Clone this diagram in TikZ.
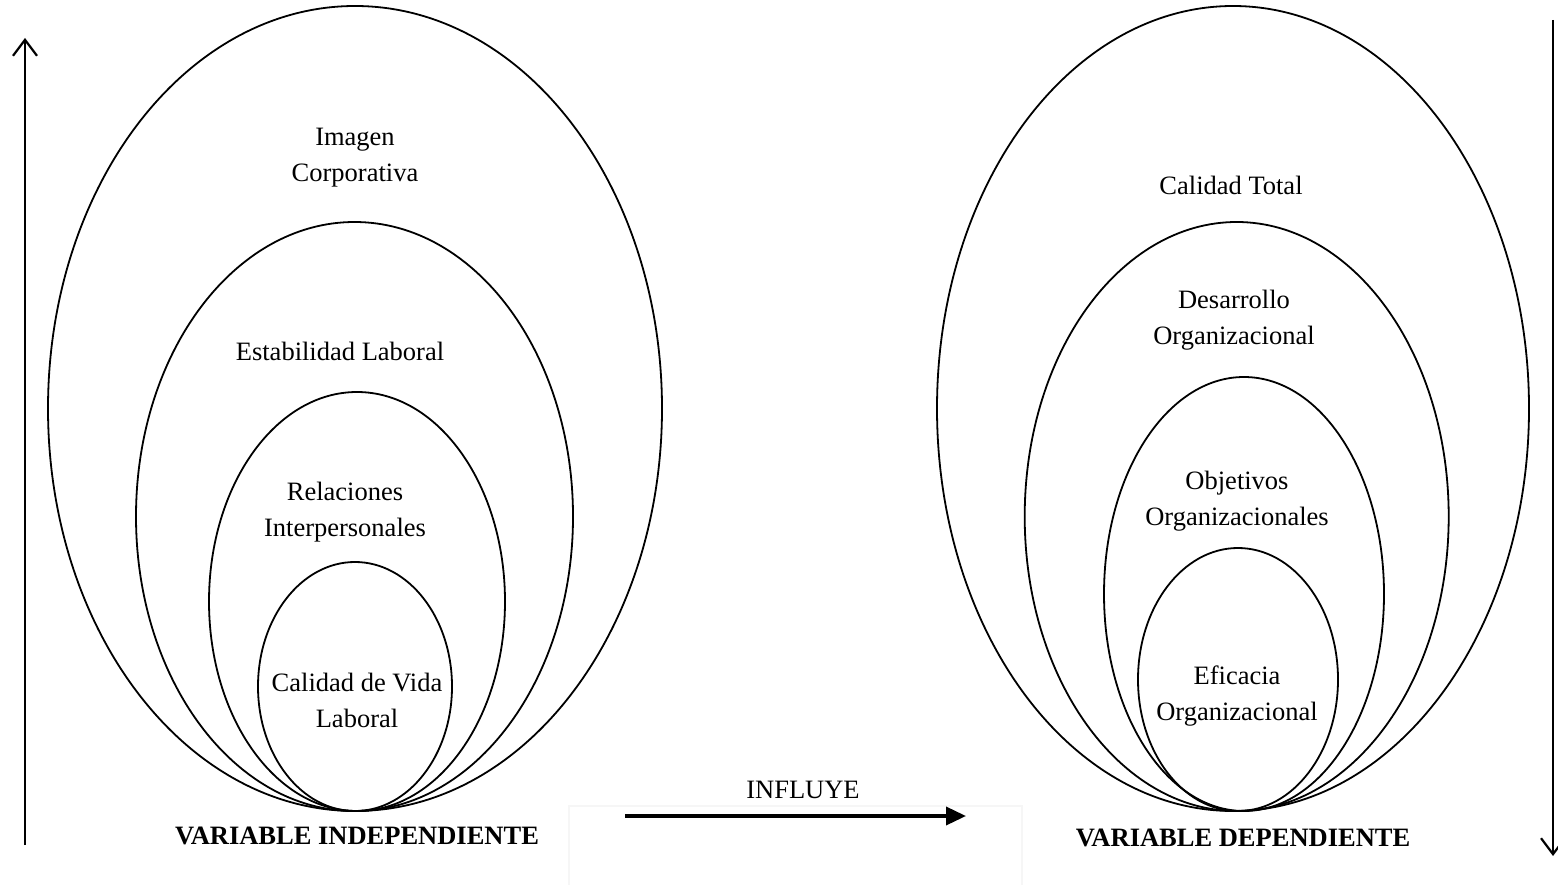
\documentclass[tikz,border=0pt]{standalone}
\usepackage{fontspec}
\setmainfont{Liberation Serif}
\usetikzlibrary{arrows.meta}
\begin{document}
\begin{tikzpicture}[x=1pt,y=-1pt,
  ell/.style={line width=1.8pt},
  lbl/.style={align=center,font=\fontsize{26.5}{36}\selectfont,inner sep=0pt},
  var/.style={font=\fontsize{26.5}{36}\selectfont\bfseries,inner sep=0pt},
  vaxis/.style={line width=2.6pt,-{Straight Barb[length=16pt,width=24pt,line width=2.2pt]}},
  infl/.style={line width=3.6pt,-{Triangle[length=20pt,width=18pt]}}]
\useasboundingbox[fill=white] (0,0) rectangle (1558,885);
% faint box
\draw[draw={rgb,255:red,246;green,246;blue,246},line width=1.2pt] (569,885) -- (569,806) -- (1022,806) -- (1022,885);
% left ellipses
\draw[ell] (355,408.5) ellipse [x radius=307, y radius=402.5];
\draw[ell] (354.5,516.5) ellipse [x radius=218.5, y radius=294.5];
\draw[ell] (357,601.5) ellipse [x radius=148, y radius=209.5];
\draw[ell] (355,686.5) ellipse [x radius=97, y radius=124.5];
% right ellipses
\draw[ell] (1233,408.5) ellipse [x radius=296, y radius=402.5];
\draw[ell] (1236.7,516.5) ellipse [x radius=212, y radius=294.5];
\draw[ell] (1244,594) ellipse [x radius=140, y radius=217];
\draw[ell] (1238,679.5) ellipse [x radius=100, y radius=131.5];
% labels
\node[lbl] (imagen) at (355,158) {Imagen\\Corporativa};
\node[lbl] (estab) at (340,351) {Estabilidad Laboral};
\node[lbl] (relac) at (345,512) {Relaciones\\Interpersonales};
\node[lbl] (calvida) at (357,700) {Calidad de Vida\\Laboral};
\node[var] (vind) at (357,836) {VARIABLE INDEPENDIENTE};
\node[lbl] (caltot) at (1231,185) {Calidad Total};
\node[lbl] (desarr) at (1234,320) {Desarrollo\\Organizacional};
\node[lbl] (objet) at (1237,501) {Objetivos\\Organizacionales};
\node[lbl] (efic) at (1237,696) {Eficacia\\Organizacional};
\node[var] (vdep) at (1243,838) {VARIABLE DEPENDIENTE};
\node[lbl] (influye) at (803,790) {INFLUYE};
% arrows
\coordinate (la0) at (25,845);
\coordinate (la1) at (25,38);
\coordinate (ra0) at (1553,20);
\coordinate (ra1) at (1553,856);
\coordinate (ma0) at (625,816);
\coordinate (ma1) at (966,816);
\draw[vaxis] (la0) -- (la1);
\draw[vaxis] (ra0) -- (ra1);
\draw[infl] (ma0) -- (ma1);
\end{tikzpicture}
\end{document}
